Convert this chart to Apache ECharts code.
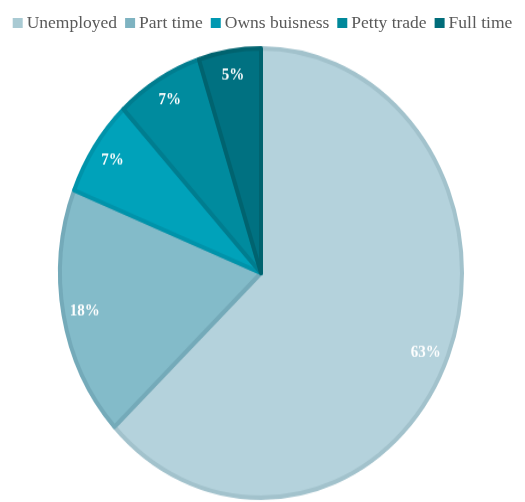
<!DOCTYPE html>
<html>
<head>
<meta charset="utf-8">
<script src="https://cdn.jsdelivr.net/npm/echarts@6/dist/echarts.min.js"></script>
<style>
  html, body { margin: 0; padding: 0; background: #ffffff; }
  #wrap { position: relative; width: 525px; height: 502px; overflow: hidden; }
  #legend { position: absolute; left: 0; top: 0; width: 525px; height: 40px; }
  /* the pie is drawn as an ellipse: taller than wide */
  #pie { position: absolute; left: 0; top: 36px; width: 525px; height: 430px;
         transform-origin: 0 0; transform: scaleY(1.118); }
</style>
</head>
<body>
<div id="wrap">
  <div id="pie"></div>
  <div id="legend"></div>
</div>
<script>
// Employment status shares (%)
const categories = ['Unemployed', 'Part time', 'Owns buisness', 'Petty trade', 'Full time'];
const shares = [63, 18, 7, 7, 5];

const fillColors = ['#b4d2dc', '#83bbc9', '#00a2ba', '#008b9e', '#007181'];
const edgeColors = ['#a2c2cc', '#74aab9', '#0093aa', '#007d8f', '#00636f'];
const legendColors = ['#a9cad3', '#7eb3c1', '#0098b1', '#00889a', '#006d7a'];

const FONT = '"Liberation Serif", "DejaVu Serif", serif';

const sliceData = categories.map((name, i) => ({
  name: name,
  value: shares[i],
  itemStyle: { color: fillColors[i], borderColor: edgeColors[i], borderWidth: 4 }
}));

const labelData = categories.map((name, i) => ({ name: name, value: shares[i] }));

const pie = echarts.init(document.getElementById('pie'), null, { renderer: 'canvas' });
pie.setOption({
  animation: false,
  series: [
    {
      type: 'pie',
      center: [261, 212],
      radius: [0, 201],
      startAngle: 90,
      clockwise: true,
      silent: true,
      label: { show: false },
      labelLine: { show: false },
      data: sliceData
    },
    {
      // transparent ring that carries the percentage labels near the rim
      type: 'pie',
      center: [261, 212],
      radius: [152, 201],
      startAngle: 90,
      clockwise: true,
      silent: true,
      itemStyle: { color: 'rgba(0,0,0,0)', borderWidth: 0 },
      label: {
        show: true,
        position: 'inside',
        formatter: '{c}%',
        color: '#ffffff',
        fontFamily: FONT,
        fontSize: 15,
        fontWeight: 'bold'
      },
      labelLine: { show: false },
      data: labelData
    }
  ]
});

const legend = echarts.init(document.getElementById('legend'), null, { renderer: 'canvas' });
legend.setOption({
  animation: false,
  legend: {
    top: 9,
    left: 'center',
    icon: 'rect',
    itemWidth: 10,
    itemHeight: 10,
    itemGap: 8,
    selectedMode: false,
    textStyle: { color: '#595959', fontFamily: FONT, fontSize: 17.5, padding: [0, 0, 0, -1] },
    data: categories.map((name, i) => ({ name: name, itemStyle: { color: legendColors[i] } }))
  },
  series: [{
    type: 'pie',
    center: [-500, -500],
    radius: 1,
    label: { show: false },
    data: categories.map((name, i) => ({ name: name, value: shares[i], itemStyle: { color: legendColors[i] } }))
  }]
});
</script>
</body>
</html>
